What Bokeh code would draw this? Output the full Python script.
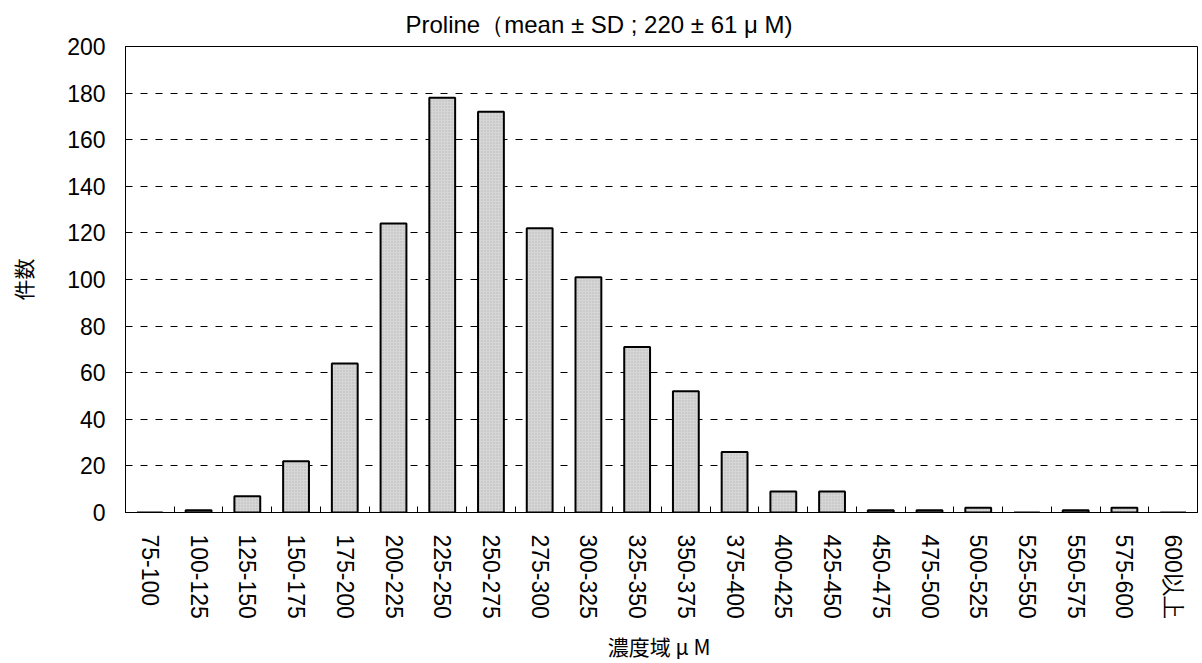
from bokeh.plotting import figure
from bokeh.models import FixedTicker, Range1d, Title, ColumnDataSource
from bokeh.embed import file_html
from bokeh.resources import INLINE

categories = ["75-100", "100-125", "125-150", "150-175", "175-200", "200-225",
              "225-250", "250-275", "275-300", "300-325", "325-350", "350-375",
              "375-400", "400-425", "425-450", "450-475", "475-500", "500-525",
              "525-550", "550-575", "575-600", "600以上"]
counts = [0, 1, 7, 22, 64, 124, 178, 172, 122, 101, 71, 52, 26, 9, 9, 1, 1, 2, 0, 1, 2, 0]
y_ticks = [0, 20, 40, 60, 80, 100, 120, 140, 160, 180, 200]
title_text = "Proline（mean ± SD ; 220 ± 61 μ M)"
x_title = "濃度域  μ M"
y_title = "件数"

LATIN = "Liberation Sans"
CJK = "Noto Sans CJK JP"

n = len(categories)
centers = [i + 0.5 for i in range(n)]
src = ColumnDataSource(dict(x=centers, top=counts, cat=categories))

p = figure(width=1202, height=663, output_backend="svg", toolbar_location=None,
           x_range=Range1d(0, n), y_range=Range1d(0, 200),
           min_border_left=125, min_border_right=5, min_border_top=46, min_border_bottom=151)
p.background_fill_color = "white"
p.border_fill_color = "white"
p.outline_line_color = "black"
p.outline_line_width = 1

p.vbar(x="x", top="top", width=0.53, bottom=0, source=src,
       fill_color="#d6d6d6", line_color="black", line_width=2,
       hatch_pattern="dot", hatch_color="#b8b8b8", hatch_scale=3, hatch_weight=0.6)

# x axis
xa = p.xaxis[0]
xa.ticker = FixedTicker(ticks=centers, minor_ticks=list(range(n + 1)))
xa.major_label_overrides = {c: lab for c, lab in zip(centers, categories)}
xa.major_tick_line_color = None
xa.minor_tick_in = 6
xa.minor_tick_out = 0
xa.minor_tick_line_color = "black"
xa.axis_line_color = "black"
xa.major_label_orientation = "vertical"
xa.major_label_text_font = LATIN
xa.major_label_text_font_size = "23px"
xa.major_label_text_color = "black"
xa.major_label_standoff = 16
xa.axis_label = x_title
xa.axis_label_text_font = CJK
xa.axis_label_text_font_size = "21px"
xa.axis_label_text_font_style = "normal"
xa.axis_label_text_color = "black"
xa.axis_label_standoff = 9

# y axis
ya = p.yaxis[0]
ya.ticker = FixedTicker(ticks=y_ticks)
ya.major_tick_in = 5
ya.major_tick_out = 0
ya.minor_tick_line_color = None
ya.major_tick_line_color = "black"
ya.axis_line_color = "black"
ya.major_label_text_font = LATIN
ya.major_label_text_font_size = "23px"
ya.major_label_text_color = "black"
ya.major_label_standoff = 20
ya.axis_label = y_title
ya.axis_label_text_font = CJK
ya.axis_label_text_font_size = "21px"
ya.axis_label_text_font_style = "normal"
ya.axis_label_text_color = "black"
ya.axis_label_standoff = 26

p.xgrid.grid_line_color = None
p.ygrid.ticker = FixedTicker(ticks=y_ticks[1:-1])
p.ygrid.grid_line_color = "black"
p.ygrid.grid_line_dash = "7 8"
p.ygrid.grid_line_width = 1

title = Title(text=title_text, align="left", offset=280, text_font=LATIN,
              text_font_size="24px", text_font_style="normal", text_color="black",
              vertical_align="top", standoff=14)
p.add_layout(title, "above")

open("out.html", "w").write(file_html(p, INLINE))
